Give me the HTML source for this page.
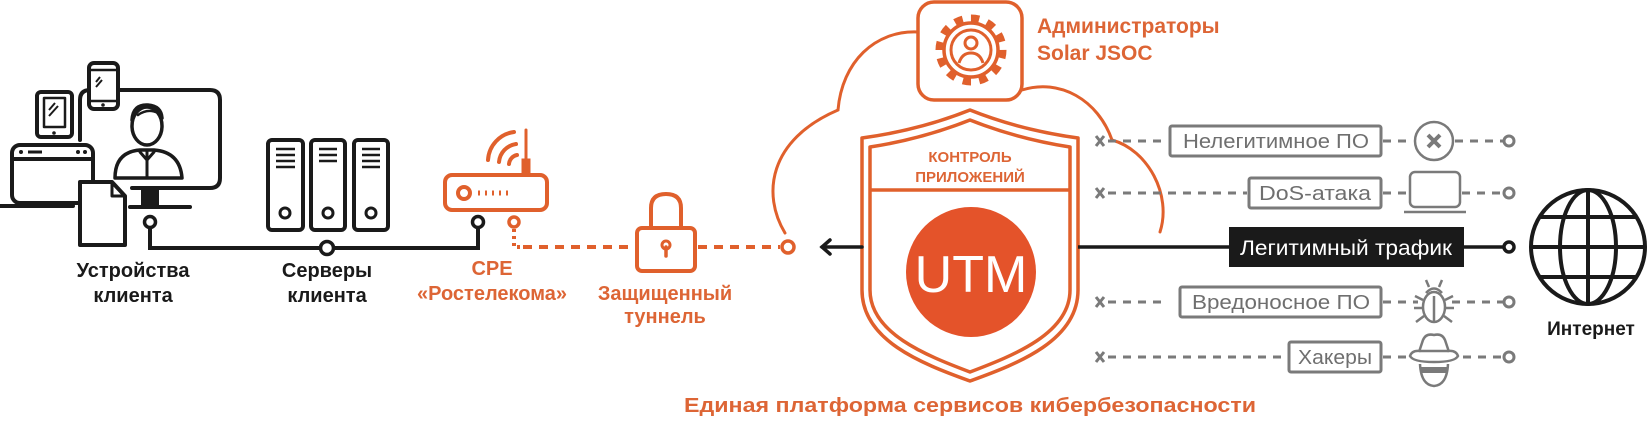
<!DOCTYPE html>
<html><head><meta charset="utf-8">
<style>
html,body{margin:0;padding:0;background:#fff;}
svg{display:block;}
text{font-family:"Liberation Sans","DejaVu Sans",sans-serif;}
</style></head>
<body>
<svg width="1648" height="422" viewBox="0 0 1648 422" xmlns="http://www.w3.org/2000/svg">
<rect width="1648" height="422" fill="#fff"/>

<!-- ===== Client devices ===== -->
<g fill="none" stroke="#1a1a1a" stroke-width="4" stroke-linecap="round" stroke-linejoin="round">
  <path d="M80,140 L80,100 Q80,90 90,90 L210,90 Q220,90 220,100 L220,178 Q220,188 210,188 L132,188"/>
  <rect x="143" y="188" width="14" height="17" fill="#1a1a1a"/>
  <line x1="130" y1="207" x2="190" y2="207"/>
  <!-- person -->
  <path d="M115,178 Q115,152 140,150 L154,150 Q180,152 182,178 Z" fill="#fff" stroke-width="3.5"/>
  <path d="M147,150 L147,178 M140,152 L147,160 L154,152" stroke-width="3"/>
  <ellipse cx="147" cy="126" rx="15" ry="19" fill="#fff" stroke-width="3.5"/>
  <path d="M132,120 Q133,104 148,105 Q161,106 162,118" stroke-width="3.5"/>
  <path d="M138,115 Q148,108 158,113" stroke-width="2.5"/>
  <!-- browser window -->
  <rect x="12" y="145" width="81" height="58" rx="8" fill="#fff"/>
  <line x1="12" y1="159" x2="93" y2="159"/>
  <line x1="0" y1="206" x2="73" y2="206"/>
  <!-- tablet -->
  <rect x="37" y="92" width="35" height="45" rx="4" fill="#fff"/>
  <rect x="44" y="98" width="21" height="29" stroke-width="2.5"/>
  <!-- phone -->
  <rect x="89" y="63" width="29" height="46" rx="5" fill="#fff"/>
  <line x1="89" y1="70" x2="118" y2="70" stroke-width="2.5"/>
  <line x1="89" y1="101" x2="118" y2="101" stroke-width="2.5"/>
  <!-- document -->
  <path d="M80,182 L112,182 L125,196 L125,245 L80,245 Z" fill="#fff"/>
  <path d="M112,182 L112,196 L125,196" stroke-width="3"/>
</g>
<g fill="#1a1a1a">
  <circle cx="21" cy="152" r="2"/><rect x="28" y="150.5" width="14" height="3"/>
  <circle cx="78" cy="152" r="2"/><circle cx="85" cy="152" r="2"/>
  <circle cx="54" cy="133" r="1.8"/><circle cx="103" cy="105" r="1.8"/>
</g>
<g stroke="#1a1a1a" stroke-width="2">
  <line x1="49" y1="110" x2="55" y2="103"/><line x1="49" y1="116" x2="58" y2="106"/>
  <line x1="96" y1="82" x2="100" y2="77"/><line x1="96" y1="87" x2="102" y2="80"/>
</g>
<!-- servers -->
<g fill="none" stroke="#1a1a1a" stroke-width="4">
  <rect x="268" y="140" width="35" height="90" rx="4"/>
  <rect x="311" y="140" width="34" height="90" rx="4"/>
  <rect x="354" y="140" width="34" height="90" rx="4"/>
  <circle cx="285" cy="213" r="5" stroke-width="3"/>
  <circle cx="328" cy="213" r="5" stroke-width="3"/>
  <circle cx="371" cy="213" r="5" stroke-width="3"/>
</g>
<g stroke="#1a1a1a" stroke-width="2.5">
  <path d="M276,149H295M276,155H295M276,161H295M276,167H295"/>
  <path d="M319,149H337M319,155H337M319,161H337"/>
  <path d="M362,149H380M362,155H380M362,161H380M362,167H380"/>
</g>
<g fill="none" stroke="#1a1a1a" stroke-width="4">
  <path d="M150,227 L150,248 L478,248 L478,227"/>
</g>
<g fill="#fff" stroke="#1a1a1a" stroke-width="3.5">
  <circle cx="150" cy="222" r="5.5"/>
  <circle cx="327" cy="248" r="6.5"/>
  <circle cx="478" cy="222" r="5.5"/>
</g>

<!-- ===== Router (orange) ===== -->
<g fill="none" stroke="#e0602c" stroke-width="4" stroke-linecap="round">
  <rect x="445" y="175" width="102" height="35" rx="7"/>
  <circle cx="464" cy="193" r="6"/>
  <path d="M478,193h2M485,193h2M492,193h2M499,193h2M506,193h2" stroke-width="5" stroke-linecap="butt"/>
  <line x1="526" y1="130" x2="526" y2="172" stroke-width="3"/>
  <rect x="523" y="160" width="6" height="14" stroke-width="3"/>
  <path d="M488,160 A30,30 0 0 1 514,132"/>
  <path d="M499,162 A20,20 0 0 1 516,144"/>
  <path d="M509,164 A10,10 0 0 1 517,155"/>
  <circle cx="514" cy="222" r="5" stroke-width="3.5"/>
  <path d="M514,229 L514,247 L520,247" stroke-dasharray="3,4" stroke-linecap="butt"/>
  <path d="M523,247 L636,247" stroke-dasharray="9,7" stroke-linecap="butt"/>
  <path d="M698,247 L780,247" stroke-dasharray="9,7" stroke-linecap="butt"/>
  <circle cx="788" cy="247" r="6" stroke-width="3.5"/>
  <path d="M651,228 L651,208 Q651,194 666,194 Q681,194 681,208 L681,228"/>
  <rect x="637" y="228" width="58" height="43" rx="5"/>
  <path d="M666,247 L666,256" stroke-width="3.5"/>
  <circle cx="666" cy="245" r="4" stroke-width="3"/>
</g>

<g font-weight="bold" font-size="20" text-anchor="middle" fill="#1a1a1a">
  <text x="133" y="277">Устройства</text>
  <text x="133" y="302">клиента</text>
  <text x="327" y="277">Серверы</text>
  <text x="327" y="302">клиента</text>
</g>
<g font-weight="bold" font-size="20" text-anchor="middle" fill="#dd6535">
  <text x="492" y="275">CPE</text>
  <text x="492" y="300">«Ростелекома»</text>
  <text x="665" y="300">Защищенный</text>
  <text x="665" y="323">туннель</text>
</g>

<!-- ===== Cloud ===== -->
<g fill="none" stroke="#e0602c" stroke-width="3" stroke-linecap="round">
  <path d="M785,233 C762,195 768,140 838,110 C842,62 875,30 918,32"/>
  <path d="M1022,90 C1060,78 1098,100 1112,140 C1148,150 1172,195 1160,232"/>
  <rect x="918" y="2" width="104" height="98" rx="16" stroke-width="3.5"/>
</g>
<g fill="none" stroke="#e0602c">
  <circle cx="971" cy="50" r="31" stroke-width="9" stroke-dasharray="8.1,8.1"/>
  <circle cx="971" cy="50" r="27" stroke-width="3.5" fill="#fff"/>
  <circle cx="971" cy="50" r="20" stroke-width="3"/>
  <circle cx="971" cy="43" r="6" stroke-width="3"/>
  <path d="M959,63 Q962,53 971,53 Q980,53 983,63" stroke-width="3"/>
</g>
<g font-weight="bold" font-size="21" fill="#dd6535">
  <text x="1037" y="33">Администраторы</text>
  <text x="1037" y="60">Solar JSOC</text>
</g>

<!-- ===== Shield ===== -->
<g fill="none" stroke="#e0602c" stroke-width="3.5" stroke-linejoin="round">
  <path d="M862,138 Q920,130 970,110 Q1020,130 1078,138 L1078,290 C1078,340 1020,363 970,381 C920,363 862,340 862,290 Z" fill="#fff"/>
  <path d="M870,147 Q922,139 970,120 Q1018,139 1070,147 L1070,290 C1070,333 1015,355 970,372 C925,355 870,333 870,290 Z"/>
  <line x1="870" y1="190" x2="1070" y2="190"/>
</g>
<g font-weight="bold" font-size="15" text-anchor="middle" fill="#dd6535">
  <text x="970" y="162">КОНТРОЛЬ</text>
  <text x="970" y="182">ПРИЛОЖЕНИЙ</text>
</g>
<circle cx="971" cy="272" r="65" fill="#e4532a"/>
<text x="971" y="292" text-anchor="middle" font-size="52" fill="#fff">UTM</text>

<g stroke="#1a1a1a" stroke-width="3.5" fill="none" stroke-linecap="round">
  <line x1="822" y1="247" x2="862" y2="247"/>
  <path d="M830,240 L822,247 L830,254"/>
</g>

<g stroke="#1a1a1a" stroke-width="3.5" fill="none">
  <line x1="1078" y1="247" x2="1504" y2="247"/>
  <circle cx="1509" cy="247" r="5" fill="#fff"/>
</g>
<rect x="1229" y="227" width="235" height="40" fill="#1a1a1a"/>
<text x="1346" y="255" text-anchor="middle" font-size="21" fill="#fff" textLength="212" lengthAdjust="spacingAndGlyphs">Легитимный трафик</text>

<g fill="none" stroke="#1a1a1a" stroke-width="4">
  <circle cx="1588" cy="247" r="57"/>
  <ellipse cx="1588" cy="247" rx="28" ry="57"/>
  <line x1="1588" y1="190" x2="1588" y2="304"/>
  <line x1="1531" y1="247" x2="1645" y2="247"/>
  <line x1="1540" y1="217" x2="1636" y2="217"/>
  <line x1="1540" y1="277" x2="1636" y2="277"/>
</g>
<text x="1591" y="335" text-anchor="middle" font-weight="bold" font-size="19" fill="#1a1a1a">Интернет</text>

<!-- ===== Threat rows ===== -->
<g stroke="#7a7a7a" stroke-width="3" fill="none">
  <path d="M1096,136 L1104,146 M1104,136 L1096,146"/>
  <path d="M1096,188 L1104,198 M1104,188 L1096,198"/>
  <path d="M1096,297 L1104,307 M1104,297 L1096,307"/>
  <path d="M1096,352 L1104,362 M1104,352 L1096,362"/>
  <g stroke-dasharray="8,7">
    <line x1="1108" y1="141" x2="1168" y2="141"/>
    <line x1="1108" y1="193" x2="1247" y2="193"/>
    <line x1="1108" y1="302" x2="1165" y2="302"/>
    <line x1="1108" y1="357" x2="1287" y2="357"/>
    <line x1="1383" y1="141" x2="1413" y2="141"/>
    <line x1="1383" y1="193" x2="1407" y2="193"/>
    <line x1="1383" y1="302" x2="1418" y2="302"/>
    <line x1="1383" y1="357" x2="1409" y2="357"/>
    <line x1="1455" y1="141" x2="1503" y2="141"/>
    <line x1="1462" y1="193" x2="1503" y2="193"/>
    <line x1="1452" y1="302" x2="1503" y2="302"/>
    <line x1="1463" y1="357" x2="1503" y2="357"/>
  </g>
  <circle cx="1509" cy="141" r="5"/>
  <circle cx="1509" cy="193" r="5"/>
  <circle cx="1509" cy="302" r="5"/>
  <circle cx="1509" cy="357" r="5"/>
  <rect x="1170" y="126" width="211" height="30" rx="2"/>
  <rect x="1249" y="178" width="132" height="30" rx="2"/>
  <rect x="1180" y="287" width="201" height="30" rx="2"/>
  <rect x="1289" y="342" width="92" height="30" rx="2"/>
  <g stroke-width="2.5">
  <circle cx="1434" cy="141" r="19"/>
  <path d="M1428,135 L1440,147 M1440,135 L1428,147" stroke-width="4"/>
  <rect x="1410" y="172" width="50" height="35" rx="5"/>
  <line x1="1404" y1="212" x2="1466" y2="212"/>
  <ellipse cx="1434" cy="307" rx="11" ry="15"/>
  <line x1="1434" y1="296" x2="1434" y2="321"/>
  <path d="M1426,293 Q1434,284 1442,293"/>
  <path d="M1429,287 L1426,280 M1439,287 L1442,280"/>
  <path d="M1423,300 L1415,296 M1423,308 L1414,308 M1424,316 L1416,322 M1445,300 L1453,296 M1445,308 L1454,308 M1444,316 L1452,322"/>
  <path d="M1419,352 L1423,340 Q1426,333 1434,335 Q1442,333 1445,340 L1449,352"/>
  <path d="M1410,356 Q1412,350 1420,351 L1448,351 Q1456,350 1458,356 Q1455,362 1434,362 Q1413,362 1410,356 Z"/>
  <path d="M1420,364 Q1421,385 1434,386 Q1447,385 1448,364"/>
  </g>
  <rect x="1421" y="367" width="26" height="6" fill="#7a7a7a" stroke="none"/>
</g>
<g font-size="20" fill="#6f6f6f" text-anchor="middle">
  <text x="1276" y="148" textLength="186" lengthAdjust="spacingAndGlyphs">Нелегитимное ПО</text>
  <text x="1315" y="200" textLength="112" lengthAdjust="spacingAndGlyphs">DoS-атака</text>
  <text x="1281" y="309" textLength="178" lengthAdjust="spacingAndGlyphs">Вредоносное ПО</text>
  <text x="1335" y="364" textLength="74" lengthAdjust="spacingAndGlyphs">Хакеры</text>
</g>

<text x="970" y="412" text-anchor="middle" font-weight="bold" font-size="20" fill="#dd6535" textLength="572" lengthAdjust="spacingAndGlyphs">Единая платформа сервисов кибербезопасности</text>
</svg>
</body></html>
